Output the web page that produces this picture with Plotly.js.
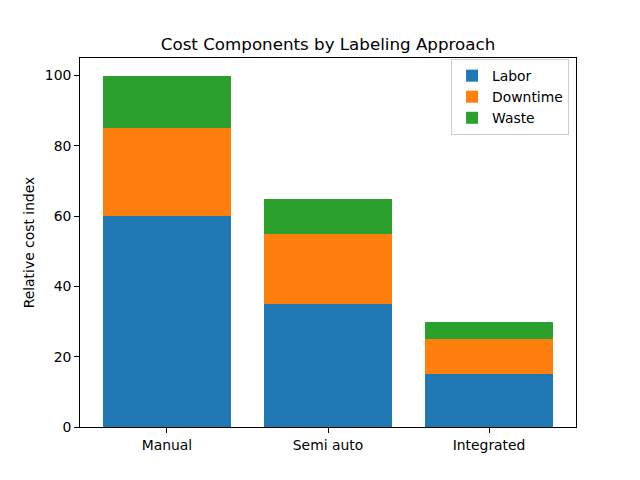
<!DOCTYPE html>
<html>
<head>
<meta charset="utf-8">
<script src="https://cdn.plot.ly/plotly-3.0.1.min.js"></script>
<style>html,body{margin:0;padding:0;background:#fff;}#chart{width:640px;height:480px;}</style>
</head>
<body>
<div id="chart"></div>
<script>
const categories = ["Manual", "Semi auto", "Integrated"];
const labor = [60, 35, 15];
const downtime = [25, 20, 10];
const waste = [15, 10, 5];
const seriesNames = ["Labor", "Downtime", "Waste"];
const colors = ["#1f77b4", "#ff7f0e", "#2ca02c"];
const yTicks = [0, 20, 40, 60, 80, 100];

const xIdx = categories.map((c, i) => i);
const traces = [labor, downtime, waste].map((vals, k) => ({
  type: "bar",
  x: xIdx,
  y: vals,
  name: seriesNames[k],
  marker: {color: colors[k], line: {width: 0}},
  width: 0.8,
  hoverinfo: "skip"
}));

const font = {family: "DejaVu Sans, sans-serif", color: "#000"};
const layout = {
  width: 640, height: 480,
  barmode: "stack",
  paper_bgcolor: "#fff", plot_bgcolor: "#fff",
  margin: {l: 80, r: 64, t: 57.6, b: 52.8, pad: 0},
  font: Object.assign({size: 13.9}, font),
  title: {text: "Cost Components by Labeling Approach", font: Object.assign({size: 16.7}, font),
          x: 0.5, xref: "paper", xanchor: "center", y: 1, yref: "paper", yanchor: "bottom", pad: {b: 8}},
  showlegend: true,
  legend: {x: 0.986, y: 0.997, xanchor: "right", yanchor: "top", bgcolor: "rgba(255,255,255,0.8)",
           bordercolor: "#cccccc", borderwidth: 1, font: Object.assign({size: 13.9}, font),
           traceorder: "normal", itemwidth: 30},
  xaxis: {range: [-0.54, 2.54], tickmode: "array", tickvals: xIdx, ticktext: categories,
          showgrid: false, zeroline: false, showline: true, linecolor: "#000", linewidth: 1, mirror: true,
          ticks: "outside", ticklen: 4.9, tickwidth: 1, tickcolor: "#000", fixedrange: true},
  yaxis: {range: [0, 105], tickmode: "array", tickvals: yTicks, ticktext: yTicks.map(String),
          showgrid: false, zeroline: false, showline: true, linecolor: "#000", linewidth: 1, mirror: true,
          ticks: "outside", ticklen: 4.9, tickwidth: 1, tickcolor: "#000", fixedrange: true,
          title: {text: "Relative cost index", font: Object.assign({size: 13.9}, font), standoff: 6}},
  bargap: 0.2
};
Plotly.newPlot("chart", traces, layout, {displayModeBar: false, staticPlot: true});
</script>
</body>
</html>
